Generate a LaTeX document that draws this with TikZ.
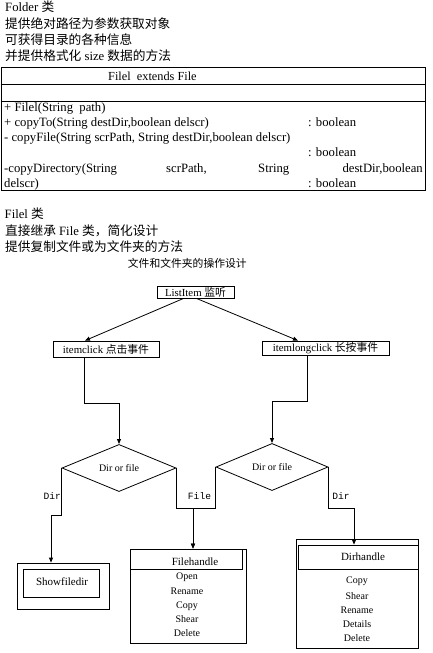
\documentclass[tikz,border=0pt]{standalone}
\usepackage{fontspec}
\setmainfont{Liberation Serif}
\setmonofont{Liberation Mono}
\newfontfamily\cjk{Noto Sans CJK SC}
\newcommand{\zh}[1]{{\cjk #1}}
\usetikzlibrary{shapes.geometric,arrows.meta}
\begin{document}
\begin{tikzpicture}[x=1pt,y=-1pt,
 txt/.style={anchor=base west,inner sep=0pt,font=\fontsize{12.7}{14}\selectfont},
 captxt/.style={anchor=base west,inner sep=0pt,font=\fontsize{10.8}{12}\selectfont},
 box/.style={draw,line width=0.8pt,inner sep=0pt,font=\fontsize{10.8}{13}\selectfont},
 dec/.style={draw,diamond,line width=0.8pt,inner sep=0pt,font=\fontsize{10}{12}\selectfont},
 item/.style={inner sep=0pt,font=\fontsize{10}{12}\selectfont},
 lbl/.style={inner sep=0pt,font=\ttfamily\fontsize{9.6}{11}\selectfont},
 conn/.style={line width=0.8pt},
 arr/.style={conn,-{Triangle[length=5pt,width=4pt]}}
]
\useasboundingbox (0,0) rectangle (432,653);

% top text
\node[txt] (t1) at (5,11.5) {Folder \zh{类}};
\node[txt] (t2) at (5,28) {\zh{提供绝对路径为参数获取对象}};
\node[txt] (t3) at (5,44) {\zh{可获得目录的各种信息}};
\node[txt] (t4) at (5,60) {\zh{并提供格式化} size \zh{数据的方法}};

% class table
\node[draw,line width=0.8pt,inner sep=0pt,anchor=north west,minimum width=424.5pt,minimum height=122.5pt] (tbl) at (0.5,67) {};
\draw[conn] (tbl.west |- 0,84.5) -- (tbl.east |- 0,84.5);
\draw[conn] (tbl.west |- 0,101) -- (tbl.east |- 0,101);
\node[txt,font=\fontsize{12.3}{14}\selectfont] (tt) at (108,80) {Filel\ \ extends File};
\node[txt] (m1) at (4,111) {+ Filel(String\ \ path)};
\node[txt] (m2) at (4,126) {+ copyTo(String destDir,boolean delscr)};
\node[txt] (m2r) at (308,126) {: boolean};
\node[txt] (m3) at (4,141) {- copyFile(String scrPath, String destDir,boolean delscr)};
\node[txt] (m3r) at (308,156.5) {: boolean};
\node[txt] (m4a) at (4,172) {-copyDirectory(String};
\node[txt] (m4b) at (166,172) {scrPath,};
\node[txt] (m4c) at (258,172) {String};
\node[txt,anchor=base east] (m4d) at (423,172) {destDir,boolean};
\node[txt] (m5) at (4,187) {delscr)};
\node[txt] (m5r) at (308,187) {: boolean};

% second text block
\node[txt] (s1) at (4.5,218) {Filel \zh{类}};
\node[txt] (s2) at (5,235) {\zh{直接继承} File \zh{类，简化设计}};
\node[txt] (s3) at (5,251.5) {\zh{提供复制文件或为文件夹的方法}};
\node[captxt] (caption) at (127.7,267.5) {\zh{文件和文件夹的操作设计}};

% flowchart
\node[box,minimum width=77pt,minimum height=11.5pt] (list) at (195.5,292.5) {ListItem \zh{监听}};
\node[box,minimum width=106pt,minimum height=16pt] (click) at (106,349) {itemclick \zh{点击事件}};
\node[box,minimum width=127pt,minimum height=14pt] (long) at (325.5,348) {itemlongclick \zh{长按事件}};

\node[dec,minimum width=114pt,minimum height=38pt] (d1) at (119,468) {Dir or file};
\node[dec,minimum width=112pt,minimum height=38pt] (d2) at (272,467) {Dir or file};

% Showfiledir
\node[box,minimum width=92pt,minimum height=46pt] (showout) at (63,586) {};
\node[box,minimum width=76pt,minimum height=28pt] (showin) at (61,583) {};
\node[item,font=\fontsize{11}{13}\selectfont] (showt) at (62,582) {Showfiledir};

% Filehandle
\node[box,minimum width=116pt,minimum height=94pt] (fileout) at (188,596) {};
\node[box,minimum width=112pt,minimum height=20pt] (filehead) at (186,559) {};
\node[item,font=\fontsize{11}{13}\selectfont] (filet) at (195,562) {Filehandle};
\node[item] (f1) at (187,577) {Open};
\node[item] (f2) at (187,591) {Rename};
\node[item] (f3) at (187,606) {Copy};
\node[item] (f4) at (187,619) {Shear};
\node[item] (f5) at (187,633) {Delete};

% Dirhandle
\node[box,minimum width=122pt,minimum height=109pt] (dirout) at (357,593.5) {};
\node[box,minimum width=120pt,minimum height=24pt] (dirhead) at (358,557) {};
\node[item,font=\fontsize{11}{13}\selectfont] (dirt) at (363,557) {Dirhandle};
\node[item] (g1) at (357,581) {Copy};
\node[item] (g2) at (357,596) {Shear};
\node[item] (g3) at (357,610) {Rename};
\node[item] (g4) at (357,624) {Details};
\node[item] (g5) at (357,638) {Delete};

% connectors
\draw[arr] ([xshift=-12.5pt]list.south) -- ([xshift=-21pt]click.north);
\draw[arr] ([xshift=1.5pt]list.south) -- ([xshift=-27.5pt]long.north);
\draw[arr] ([xshift=-22pt]click.south) -- ++(0,46) -| (d1.north);
\draw[arr] ([xshift=-18.5pt]long.south) -- ++(0,46) -| (d2.north);
\draw[arr] (d1.west) -- ++(0,47) -| ([xshift=-12pt]showout.north);
\draw[arr] (d1.east) -- ++(0,40) -| ([xshift=5pt]fileout.north);
\draw[arr] (d2.west) -- ++(0,41) -| ([xshift=5pt]fileout.north);
\draw[arr] (d2.east) -- ++(0,41) -| ([xshift=-4pt]dirhead.north);

\node[lbl,anchor=east] (ldir) at (61,496) {Dir};
\node[lbl] (lfile) at (199.5,496) {File};
\node[lbl] (ldir2) at (341,496) {Dir};
\end{tikzpicture}
\end{document}
